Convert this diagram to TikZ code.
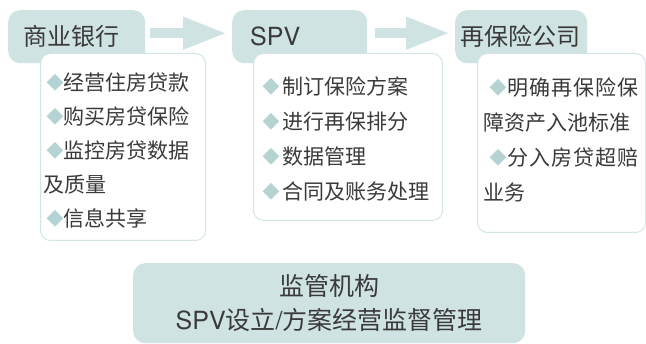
\documentclass[tikz,border=0pt]{standalone}
\usepackage{fontspec}
\setmainfont{Noto Sans CJK SC}
\newfontfamily\latinfont{TeX Gyre Heros}
\newfontfamily\symfont{DejaVu Sans}
\usetikzlibrary{arrows.meta,calc}
\definecolor{hdr}{HTML}{CFE3E2}
\definecolor{edgec}{HTML}{D2E6E5}
\definecolor{diac}{HTML}{B5D3D3}
\definecolor{ink}{HTML}{3A3A3A}
\tikzset{
  hdrbox/.style={fill=hdr, rounded corners=12pt, anchor=north west, minimum height=53pt,
    inner ysep=0pt, text=ink, align=left, font=\fontsize{24}{28}\selectfont},
  detbox/.style={draw=edgec, fill=white, line width=1pt, rounded corners=10pt,
    anchor=north west, inner sep=0pt},
  item/.style={anchor=base west, inner sep=0pt, text=ink, font=\fontsize{21}{21}\selectfont},
  wide/.style={item, font=\fontsize{21}{21}\selectfont\addfontfeature{LetterSpace=5}},
  diam/.style={anchor=center, inner sep=0pt, text=diac, font=\symfont\fontsize{22}{22}\selectfont},
  flow/.style={draw=hdr, line width=10pt, -{Triangle[length=44pt,width=30pt]}},
}
\begin{document}
\begin{tikzpicture}[x=1pt,y=-1pt]
\useasboundingbox (0,0) rectangle (646,344);
% headers
\node[hdrbox, inner xsep=15pt, text width=107pt] (h1) at (8,10) {\raisebox{1.5pt}{商业银行}};
\node[hdrbox, inner xsep=18pt, text width=99pt, font=\latinfont\fontsize{25}{28}\selectfont] (h2) at (232,10) {\raisebox{1.5pt}{SPV}};
\node[hdrbox, inner xsep=5pt, text width=122pt] (h3) at (455,10) {\raisebox{1.5pt}{再保险公司}};
% detail boxes
\node[detbox, minimum width=165pt, minimum height=187pt] (d1) at (40,53) {};
\node[detbox, minimum width=189pt, minimum height=167pt] (d2) at (253,53) {};
\node[detbox, minimum width=168pt, minimum height=179pt] (d3) at (477,53) {};
% arrows
\draw[flow] ($(h1.east)+(5,-3.5)$) -- ($(h2.west)+(-5,-3.5)$);
\draw[flow] ($(h2.east)+(8,-3.5)$) -- ($(h3.west)+(-5,-3.5)$);
% box 1 items
\node[diam] (m1a) at (55,83) {◆};  \node[item] (t1a) at (63,91) {经营住房贷款};
\node[diam] (m1b) at (55,117) {◆}; \node[item] (t1b) at (63,125) {购买房贷保险};
\node[diam] (m1c) at (55,151) {◆}; \node[item] (t1c) at (63,159) {监控房贷数据};
\node[item] (t1d) at (43,193) {及质量};
\node[diam] (m1e) at (55,219) {◆}; \node[item] (t1e) at (63,227) {信息共享};
% box 2 items
\node[diam] (m2a) at (271,87) {◆};  \node[item] (t2a) at (282,95) {制订保险方案};
\node[diam] (m2b) at (271,122) {◆}; \node[item] (t2b) at (282,130) {进行再保排分};
\node[diam] (m2c) at (271,157) {◆}; \node[item] (t2c) at (282,165) {数据管理};
\node[diam] (m2d) at (271,192) {◆}; \node[item] (t2d) at (282,200) {合同及账务处理};
% box 3 items
\node[diam] (m3a) at (498,88) {◆};  \node[wide] (t3a) at (507,96) {明确再保险保};
\node[item] (t3b) at (483,131) {障资产入池标准};
\node[diam] (m3c) at (498,158) {◆}; \node[wide] (t3c) at (507,166) {分入房贷超赔};
\node[item] (t3d) at (483,201) {业务};
% regulator
\node[fill=hdr, rounded corners=12pt, anchor=north west, minimum width=392pt, minimum height=80pt,
  inner sep=0pt, text=ink, align=center, font=\fontsize{25}{34}\selectfont] (reg) at (133,263)
  {监管机构\\{\latinfont SPV}设立{\latinfont /}方案经营监督管理};
\end{tikzpicture}
\end{document}
